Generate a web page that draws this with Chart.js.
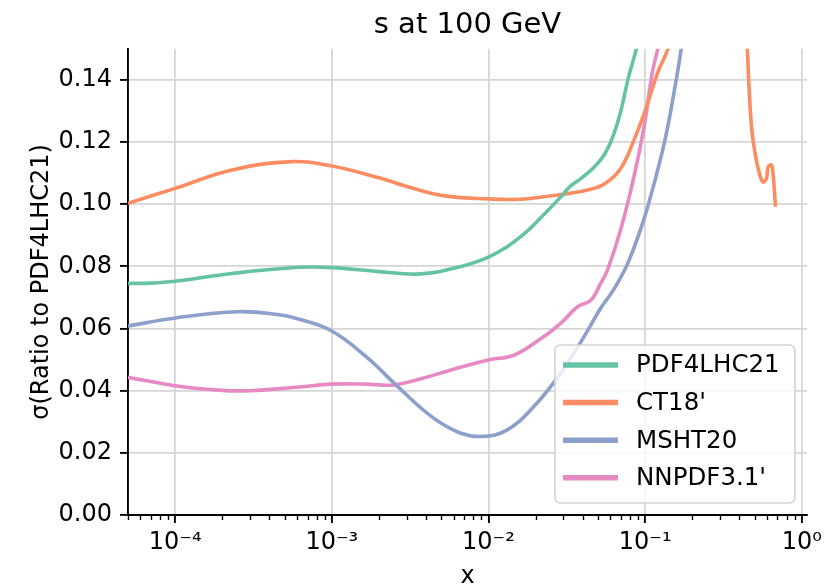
<!DOCTYPE html>
<html>
<head>
<meta charset="utf-8">
<script src="https://cdn.jsdelivr.net/npm/chart.js@4/dist/chart.umd.min.js"></script>
<style>
  html, body { margin: 0; padding: 0; background: #ffffff; }
  #wrap { width: 837px; height: 588px; }
</style>
</head>
<body>
<div id="wrap"><canvas id="c" width="837" height="588"></canvas></div>
<script>
// ---------- data ----------
const titleText = 's at 100 GeV';
const yAxisLabel = 'σ(Ratio to PDF4LHC21)';
const xAxisLabel = 'x';

const seriesNames = ['PDF4LHC21', "CT18'", 'MSHT20', "NNPDF3.1'"];
const seriesColors = ['#66c2a5', '#fc8d62', '#8da0cb', '#e78ac3'];

const pdf4lhcX = [5e-5, 7e-5, 1e-4, 2.3e-4, 6.2e-4, 1e-3, 2e-3, 3.5e-3, 5.4e-3, 1e-2, 1.6e-2, 2.35e-2, 2.9e-2, 3.3e-2, 3.9e-2, 4.7e-2, 5.5e-2, 6.2e-2, 7.0e-2, 7.8e-2, 8.8e-2, 9.5e-2];
const pdf4lhcY = [0.0745, 0.0746, 0.0752, 0.0777, 0.0797, 0.0796, 0.0783, 0.0775, 0.0788, 0.0830, 0.0895, 0.0976, 0.1024, 0.1056, 0.1083, 0.1118, 0.1160, 0.1215, 0.1300, 0.1405, 0.1500, 0.1580];

const ct18X = [5e-5, 1e-4, 2.3e-4, 5.6e-4, 1e-3, 2e-3, 3.3e-3, 5.4e-3, 1e-2, 1.6e-2, 2.6e-2, 3.2e-2, 4.3e-2, 5.5e-2, 7.0e-2, 8.5e-2, 0.1, 0.12, 0.14, 0.155, 0.3, 0.43, 0.449, 0.458, 0.48, 0.508, 0.536, 0.565, 0.595, 0.61, 0.64, 0.655, 0.68];
const ct18Y = [0.1003, 0.1051, 0.1110, 0.1137, 0.1123, 0.1085, 0.1051, 0.1026, 0.1017, 0.1016, 0.1028, 0.1034, 0.1046, 0.1065, 0.1116, 0.1207, 0.1300, 0.1422, 0.1500, 0.1580, null, 0.1580, 0.1497, 0.1400, 0.1239, 0.1153, 0.1100, 0.1072, 0.1083, 0.1120, 0.1126, 0.1100, 0.0992];

const mshtX = [5e-5, 1e-4, 2.5e-4, 4.5e-4, 6.2e-4, 1e-3, 1.65e-3, 2.7e-3, 4.4e-3, 6.6e-3, 9.1e-3, 1.31e-2, 1.94e-2, 2.88e-2, 4.07e-2, 5.2e-2, 6.3e-2, 7.6e-2, 9e-2, 0.105, 0.133, 0.158, 0.17, 0.18];
const mshtY = [0.0608, 0.0634, 0.0654, 0.0645, 0.0630, 0.0592, 0.0510, 0.0408, 0.0314, 0.0264, 0.0253, 0.0273, 0.0348, 0.0455, 0.0573, 0.0665, 0.0725, 0.0800, 0.0895, 0.1000, 0.1200, 0.1400, 0.1500, 0.1580];

const nnpdfX = [5e-5, 1e-4, 2e-4, 3e-4, 6.2e-4, 1e-3, 1.65e-3, 2.45e-3, 3.46e-3, 5.7e-3, 1e-2, 1.45e-2, 2.1e-2, 2.88e-2, 3.7e-2, 4.5e-2, 5.2e-2, 5.75e-2, 7.0e-2, 8.5e-2, 9.9e-2, 0.111, 0.1206, 0.13];
const nnpdfY = [0.0443, 0.0416, 0.0401, 0.0400, 0.0412, 0.0421, 0.0421, 0.0418, 0.0434, 0.0466, 0.0499, 0.0514, 0.0563, 0.0616, 0.0670, 0.0691, 0.0745, 0.0788, 0.0920, 0.1090, 0.1255, 0.1422, 0.1500, 0.1570];

const xTickValues = [1e-4, 1e-3, 1e-2, 1e-1, 1];
const xTickLabels = ['10⁻⁴', '10⁻³', '10⁻²', '10⁻¹', '10⁰'];
const yTickValues = [0, 0.02, 0.04, 0.06, 0.08, 0.10, 0.12, 0.14];
const xMin = 5e-5, xMax = 1.08, yMin = 0, yMax = 0.15;

// ---------- build ----------
const allX = [pdf4lhcX, ct18X, mshtX, nnpdfX];
const allY = [pdf4lhcY, ct18Y, mshtY, nnpdfY];
const FONT = 'DejaVu Sans';

const datasets = seriesNames.map((name, i) => ({
  label: name,
  data: allX[i].map((x, j) => ({ x: x, y: allY[i][j] })),
  borderColor: seriesColors[i],
  backgroundColor: seriesColors[i],
  borderWidth: 3.6,
  pointRadius: 0,
  pointHoverRadius: 0,
  tension: 0.4,
  spanGaps: false,
  fill: false
}));

const minorTicks = {
  id: 'minorTicks',
  afterDraw(chart) {
    const xs = chart.scales.x, ctx = chart.ctx;
    const y0 = chart.chartArea.bottom;
    ctx.save();
    ctx.strokeStyle = '#000';
    ctx.lineWidth = 1.4;
    for (let d = -5; d <= 0; d++) {
      for (let k = 2; k <= 9; k++) {
        const v = k * Math.pow(10, d);
        if (v < xMin || v > xMax) continue;
        const px = Math.round(xs.getPixelForValue(v)) + 0.5;
        ctx.beginPath();
        ctx.moveTo(px, y0);
        ctx.lineTo(px, y0 + 5);
        ctx.stroke();
      }
    }
    ctx.restore();
  }
};

const boxLegend = {
  id: 'boxLegend',
  afterDatasetsDraw(chart) {
    const ctx = chart.ctx;
    const x0 = 555, y0 = 345, w = 240, h = 158, r = 6;
    ctx.save();
    ctx.beginPath();
    ctx.moveTo(x0 + r, y0);
    ctx.lineTo(x0 + w - r, y0);
    ctx.quadraticCurveTo(x0 + w, y0, x0 + w, y0 + r);
    ctx.lineTo(x0 + w, y0 + h - r);
    ctx.quadraticCurveTo(x0 + w, y0 + h, x0 + w - r, y0 + h);
    ctx.lineTo(x0 + r, y0 + h);
    ctx.quadraticCurveTo(x0, y0 + h, x0, y0 + h - r);
    ctx.lineTo(x0, y0 + r);
    ctx.quadraticCurveTo(x0, y0, x0 + r, y0);
    ctx.closePath();
    ctx.fillStyle = 'rgba(255,255,255,0.8)';
    ctx.fill();
    ctx.strokeStyle = '#d4d4d4';
    ctx.lineWidth = 1.6;
    ctx.stroke();
    chart.data.datasets.forEach((ds, i) => {
      const yy = 365 + i * 37.6;
      ctx.beginPath();
      ctx.strokeStyle = ds.borderColor;
      ctx.lineWidth = 5.5;
      ctx.lineCap = 'butt';
      ctx.moveTo(563, yy);
      ctx.lineTo(618, yy);
      ctx.stroke();
      ctx.fillStyle = '#000';
      ctx.font = '24.5px "' + FONT + '"';
      ctx.textBaseline = 'middle';
      ctx.textAlign = 'left';
      ctx.fillText(ds.label, 636, yy + 1);
    });
    ctx.restore();
  }
};

new Chart(document.getElementById('c'), {
  type: 'line',
  data: { datasets: datasets },
  plugins: [minorTicks, boxLegend],
  options: {
    responsive: false,
    animation: false,
    events: [],
    layout: { padding: { left: 0, right: 30, top: 0, bottom: 0 } },
    plugins: {
      legend: { display: false },
      tooltip: { enabled: false },
      title: {
        display: true,
        text: titleText,
        fullSize: false,
        color: '#000',
        font: { family: FONT, size: 29, weight: 'normal', lineHeight: 1.2 },
        padding: { top: 8, bottom: 6 }
      }
    },
    scales: {
      x: {
        type: 'logarithmic',
        min: xMin,
        max: xMax,
        afterBuildTicks: (s) => { s.ticks = xTickValues.map(v => ({ value: v })); },
        afterFit: (s) => { s.height = 73; },
        ticks: {
          autoSkip: false,
          maxRotation: 0,
          padding: 5,
          color: '#000',
          font: { family: FONT, size: 24 },
          callback: (v, i) => xTickLabels[i]
        },
        grid: { color: '#d6d6d6', lineWidth: 1.8, tickColor: '#000', tickWidth: 1.9, tickLength: 8 },
        border: { display: true, color: '#000', width: 1.9 },
        title: {
          display: true,
          text: xAxisLabel,
          color: '#000',
          font: { family: FONT, size: 24, lineHeight: 1.0 },
          padding: { top: 0, bottom: -1 }
        }
      },
      y: {
        type: 'linear',
        min: yMin,
        max: yMax,
        afterBuildTicks: (s) => { s.ticks = yTickValues.map(v => ({ value: v })); },
        afterFit: (s) => { s.width = 128; },
        ticks: {
          padding: 8,
          color: '#000',
          font: { family: FONT, size: 24 },
          callback: (v) => Number(v).toFixed(2)
        },
        grid: { color: '#d6d6d6', lineWidth: 1.8, tickColor: '#000', tickWidth: 1.9, tickLength: 8 },
        border: { display: true, color: '#000', width: 1.9 },
        title: {
          display: true,
          text: yAxisLabel,
          color: '#000',
          font: { family: FONT, size: 24, lineHeight: 1.2 },
          padding: { top: 27, bottom: 0 }
        }
      }
    }
  }
});
</script>
</body>
</html>
